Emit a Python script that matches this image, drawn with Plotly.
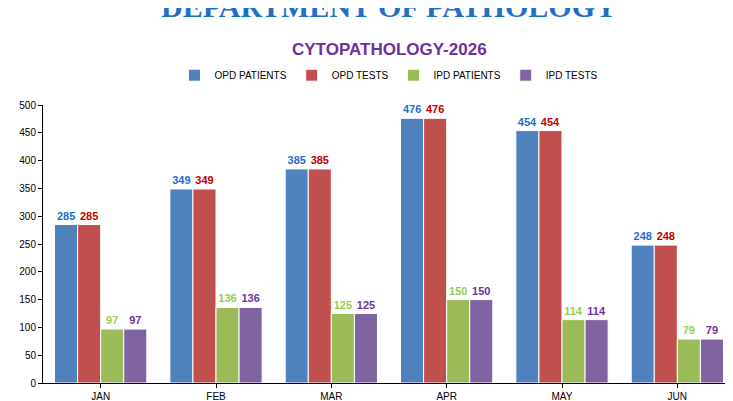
import plotly.graph_objects as go

months = ["JAN", "FEB", "MAR", "APR", "MAY", "JUN"]
opd_patients = [285, 349, 385, 476, 454, 248]
opd_tests = [285, 349, 385, 476, 454, 248]
ipd_patients = [97, 136, 125, 150, 114, 79]
ipd_tests = [97, 136, 125, 150, 114, 79]

series = [
    ("OPD PATIENTS", opd_patients, "#4F81BD", "#1F6FC5"),
    ("OPD TESTS", opd_tests, "#C0504D", "#C00000"),
    ("IPD PATIENTS", ipd_patients, "#9BBB59", "#92D050"),
    ("IPD TESTS", ipd_tests, "#8064A2", "#7030A0"),
]

fig = go.Figure()
for name, vals, col, tcol in series:
    fig.add_trace(go.Bar(
        x=months, y=vals, name=name,
        marker=dict(color=col, line=dict(color="white", width=1)),
        text=[f"<b>{v}</b>" for v in vals], textposition="outside", cliponaxis=False,
        textfont=dict(color=tcol, size=11, family="Liberation Sans"),
    ))

fig.update_layout(
    width=733, height=401,
    paper_bgcolor="white", plot_bgcolor="white",
    barmode="group", bargap=0.2, bargroupgap=0,
    margin=dict(l=35, r=6, t=97, b=26, autoexpand=False),
    font=dict(family="Liberation Sans", size=10, color="black"),
    legend=dict(orientation="h", x=0.5, xanchor="center", y=1.055, yanchor="bottom",
                font=dict(size=10, family="Liberation Sans"),
                itemwidth=30, tracegroupgap=0, entrywidthmode="pixels"),
    xaxis=dict(showline=True, linecolor="black", ticks="outside", tickcolor="black",
               ticklen=4, showgrid=False),
    yaxis=dict(range=[0, 500], dtick=50, showline=True, linecolor="black",
               ticks="outside", tickcolor="black", ticklen=4, showgrid=False),
    annotations=[
        dict(text="<b>DEPARTMENT OF PATHOLOGY</b>", xref="paper", yref="paper",
             x=0.5, y=1.355, xanchor="center", yanchor="middle", showarrow=False,
             font=dict(family="Liberation Serif", size=30, color="#1F6FC5")),
        dict(text="<b>CYTOPATHOLOGY-2026</b>", xref="paper", yref="paper",
             x=0.5, y=1.2, xanchor="center", yanchor="middle", showarrow=False,
             font=dict(family="Liberation Sans", size=17, color="#7030A0")),
    ],
    shapes=[dict(type="line", xref="paper", yref="paper", x0=-0.06, x1=1.01, y0=1.46, y1=1.46,
                 line=dict(color="#999999", width=1))],
)
fig.write_html("out.html")
